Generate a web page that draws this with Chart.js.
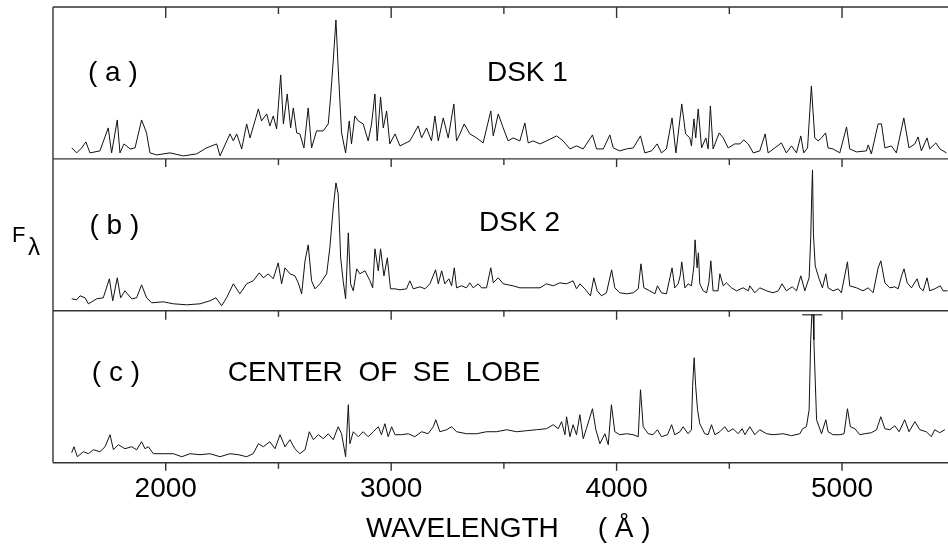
<!DOCTYPE html>
<html lang="en">
<head>
<meta charset="UTF-8">
<title>Spectra</title>
<script src="https://cdn.jsdelivr.net/npm/chart.js@4"></script>
<style>
  html, body { margin: 0; padding: 0; background: #fff; }
  #wrap { width: 948px; height: 545px; }
</style>
</head>
<body>
<div id="wrap"><canvas id="chart" width="948" height="545"></canvas></div>
<script>
// Wavelength (Å) and flux (arbitrary units)
const waveA = [1583,1605,1627,1646,1664,1708,1745,1760,1785,1797,1815,1842,1864,1893,1915,1930,1960,2019,2078,2137,2181,2226,2241,2285,2300,2315,2337,2359,2374,2411,2425,2448,2462,2477,2492,2510,2522,2539,2554,2566,2581,2595,2613,2632,2647,2669,
  2699,2721,2731,2743,2755,2765,2780,2798,2814,2824,2839,2854,2876,2898,2913,2928,2938,2953,2965,2980,2994,3017,3039,3083,3120,3135,3157,3179,3194,3209,3231,3253,3278,3290,3305,3324,3349,3379,3408,3442,3453,3475,3497,3519,3541,3571,3593,3608,3630,3660,3689,3734,3763,3793,3822,3852,3893,3911,3941,3970,3985,4014,
  4044,4074,4106,4125,4155,4180,4199,4221,4246,4263,4289,4306,4325,4332,4343,4351,4362,4377,4396,4406,4416,4428,4455,4473,4495,4524,4547,4564,4584,4606,4635,4659,4672,4702,4731,4753,4776,4798,4817,4830,4847,4864,4879,4894,4909,4927,4938,4960,4990,5020,5034,5064,5108,5116,5130,5160,5175,5190,5219,5241,5274,5297,5323,5337,5352,5377,5389,5416,5434,5463];
const fluxA = [11,6,11,17,6,8,31,6,39,6,15,10,11,39,26,6,4,6,3,5,11,15,3,25,18,25,10,35,21,50,38,45,33,43,30,84,35,65,31,51,26,25,11,51,11,28,
  28,35,61,98,139,91,26,6,38,15,43,38,35,18,35,65,18,62,31,48,15,25,13,18,33,21,31,18,43,18,41,21,55,18,25,35,25,21,16,48,23,45,31,18,21,18,36,16,18,15,18,23,18,10,13,10,24,10,10,24,11,8,
  10,11,23,6,8,15,6,10,41,6,55,25,21,13,40,21,50,11,21,10,53,10,26,21,11,15,15,19,15,6,8,25,6,11,16,6,13,6,23,6,11,73,21,18,21,26,11,10,6,32,10,7,8,14,5,35,35,11,13,6,41,11,15,22,8,21,10,16,10,6];

const waveB = [1583,1605,1620,1642,1657,1694,1723,1750,1765,1785,1800,1819,1849,1871,1893,1915,1938,1989,2034,2093,2152,2196,2223,2248,2270,2300,2329,2359,2388,2415,2433,2455,2477,2499,2514,2529,2551,2573,2588,2603,2618,2632,2647,2662,2684,
  2714,2728,2743,2755,2765,2776,2787,2798,2810,2820,2832,2847,2861,2884,2906,2918,2928,2943,2953,2968,2983,2997,3017,3039,3068,3083,3098,3128,3150,3172,3197,3209,3224,3238,3256,3268,3280,3290,3312,3334,3349,3364,3386,3401,3423,3442,3453,3475,3497,3541,3571,3615,3660,3689,3719,3748,3778,3807,3822,3837,3859,3884,3899,3914,3933,3955,3978,3992,4014,
  4044,4074,4096,4108,4121,4147,4170,4181,4199,4221,4246,4258,4273,4282,4289,4303,4317,4332,4343,4348,4357,4363,4369,4384,4399,4409,4418,4428,4450,4458,4473,4487,4510,4532,4561,4584,4591,4613,4635,4665,4694,4717,4734,4753,4779,4798,4817,4835,4854,4861,4866,4869,4873,4881,4898,4913,4928,4938,4960,4983,4997,5024,5034,5064,5093,5116,5138,5160,5172,5190,5212,5234,5249,5264,5275,5289,5308,5333,5345,5360,5377,5389,5411,5436,5448,5468];
const fluxB = [12,11,15,13,7,12,13,32,10,33,13,20,12,13,26,13,8,9,7,6,7,10,13,5,13,27,17,27,30,38,33,37,32,48,27,43,37,35,28,17,50,66,30,22,27,
  37,63,103,128,117,53,30,12,78,27,20,42,37,40,30,23,62,40,62,35,53,22,22,21,22,30,22,24,22,27,41,27,40,27,32,25,43,23,25,23,28,23,27,23,23,43,28,33,27,25,23,23,23,27,25,28,27,30,22,27,22,15,33,20,15,18,41,23,18,
  17,18,22,47,23,20,17,25,18,17,43,23,27,35,49,23,27,25,45,71,43,58,27,20,18,28,50,20,20,37,25,28,23,20,23,20,25,18,23,20,18,20,27,20,24,20,35,20,33,73,120,141,77,45,32,23,37,23,20,22,18,49,25,23,20,23,18,43,50,28,23,24,22,35,42,28,23,32,23,20,33,20,22,25,20,20];

const waveC = [1583,1593,1608,1635,1657,1679,1708,1731,1753,1768,1790,1819,1849,1871,1893,1908,1923,1945,1989,2034,2071,2108,2152,2196,2241,2285,2322,2359,2388,2411,2433,2462,2485,2507,2529,2551,2573,2595,2618,2637,2655,2677,
  2699,2721,2743,2765,2780,2798,2810,2817,2832,2854,2876,2898,2921,2943,2957,2972,2987,3002,3017,3046,3076,3105,3135,3164,3187,3198,3216,3246,3268,3290,3334,3379,3423,3467,3512,3556,3600,3645,3689,3719,3741,3756,3771,3778,3793,3807,3822,3837,3852,3866,3893,3908,3926,3948,3963,3977,3992,4014,
  4044,4074,4096,4106,4118,4140,4162,4181,4199,4226,4244,4258,4281,4295,4317,4332,4337,4344,4351,4359,4369,4391,4406,4421,4436,4458,4480,4495,4517,4539,4557,4569,4591,4613,4635,4665,4694,4739,4776,4813,4825,4842,4854,4861,4866,4872,4875,4887,4909,4928,4938,4960,4990,5009,5024,5037,5057,5079,5101,5130,5153,5172,5190,5212,5234,5253,5278,5297,5323,5345,5374,5396,5411,5433,5456];
const fluxC = [10,16,6,11,9,13,11,16,28,13,18,14,16,13,21,14,16,9,9,9,6,9,8,9,6,9,8,6,9,19,16,21,14,28,16,23,14,9,13,31,23,28,
  24,29,23,36,29,6,58,19,31,26,31,26,31,36,28,39,26,36,28,28,29,26,31,29,36,43,31,33,36,31,29,29,31,31,33,31,32,33,34,38,34,41,28,46,26,38,28,48,24,34,54,33,19,29,18,58,31,28,
  29,28,26,73,36,29,28,33,26,28,38,28,31,36,29,33,76,105,76,53,39,29,28,38,28,31,36,31,34,29,34,28,36,28,33,29,28,29,27,29,34,36,53,123,148,148,123,43,29,43,31,28,28,29,54,36,34,28,29,30,33,46,34,33,37,31,43,31,41,33,31,26,33,30,33];

// clipped H-beta peak in panel (c): horizontal cap
const capWave = [4823, 4912];
const capFlux = [148, 148];

// axis ticks (Å)
const majorTicks = [2000, 3000, 4000, 5000];
const minorTicks = [2500, 3500, 4500];

const FONT = "'Liberation Sans', Arial, sans-serif";
const pts = (w, f) => w.map((v, i) => ({ x: v, y: f[i] }));

const line = (data, axis) => ({
  data: pts(...data), yAxisID: axis,
  borderColor: '#111', borderWidth: 1, pointRadius: 0, tension: 0
});

const panelAxis = {
  stack: 'panels', stackWeight: 1, min: 0, max: 152,
  ticks: { display: false }, grid: { display: false, drawTicks: false },
  border: { display: false }
};

// frame, ticks and annotations
const framePlugin = {
  id: 'frame',
  afterDatasetsDraw(chart) {
    const { ctx, chartArea: ca, scales } = chart;
    const x = scales.x;
    ctx.save();
    ctx.strokeStyle = '#333';
    ctx.lineWidth = 1.4;
    ctx.beginPath();
    ctx.moveTo(ca.left, ca.top);
    ctx.lineTo(ca.left, ca.bottom);
    const panels = [['yA', 11, 7], ['yB', 8, 6], ['yC', 9, 6]];
    for (const [id, maj, min] of panels) {
      const top = scales[id].top;
      ctx.moveTo(ca.left, top); ctx.lineTo(ca.right, top);
      majorTicks.forEach(v => { const p = x.getPixelForValue(v); ctx.moveTo(p, top); ctx.lineTo(p, top + maj); });
      minorTicks.forEach(v => { const p = x.getPixelForValue(v); ctx.moveTo(p, top); ctx.lineTo(p, top + min); });
    }
    ctx.moveTo(ca.left, ca.bottom); ctx.lineTo(ca.right, ca.bottom);
    majorTicks.forEach(v => { const p = x.getPixelForValue(v); ctx.moveTo(p, ca.bottom); ctx.lineTo(p, ca.bottom + 8); });
    minorTicks.forEach(v => { const p = x.getPixelForValue(v); ctx.moveTo(p, ca.bottom); ctx.lineTo(p, ca.bottom + 6); });
    ctx.stroke();

    ctx.fillStyle = '#000';
    ctx.textBaseline = 'middle';
    ctx.textAlign = 'left';
    ctx.font = `28px ${FONT}`;
    const notes = [
      ['( a )', 1655, 'yA', 86], ['DSK 1', 3425, 'yA', 86],
      ['( b )', 1662, 'yB', 85], ['DSK 2', 3390, 'yB', 88],
      ['( c )', 1672, 'yC', 89], ['CENTER  OF  SE  LOBE', 2275, 'yC', 89]
    ];
    notes.forEach(([t, w, id, f]) => ctx.fillText(t, x.getPixelForValue(w), scales[id].getPixelForValue(f)));

    // y label F_lambda
    const mid = (ca.top + ca.bottom) / 2;
    ctx.textBaseline = 'alphabetic';
    ctx.font = `22px ${FONT}`;
    ctx.fillText('F', ca.left - 41, mid + 7);
    ctx.font = `24px ${FONT}`;
    ctx.fillText('λ', ca.left - 25, mid + 20);
    ctx.restore();
  }
};

new Chart(document.getElementById('chart'), {
  type: 'line',
  data: {
    datasets: [
      line([waveC, fluxC], 'yC'),
      line([waveB, fluxB], 'yB'),
      line([waveA, fluxA], 'yA'),
      { data: pts(capWave, capFlux), yAxisID: 'yC', borderColor: '#555', borderWidth: 1.5, pointRadius: 0 }
    ]
  },
  options: {
    responsive: false,
    animation: false,
    events: [],
    layout: { padding: { left: 53, top: 7, right: 0, bottom: 0 } },
    plugins: { legend: { display: false }, tooltip: { enabled: false } },
    scales: {
      x: {
        type: 'linear', min: 1500, max: 5470,
        afterBuildTicks: s => { s.ticks = majorTicks.map(v => ({ value: v })); },
        grid: { display: false, drawTicks: false },
        border: { display: false },
        ticks: {
          color: '#000', font: { family: FONT, size: 28, lineHeight: 0.8 }, padding: 15.1,
          maxRotation: 0, autoSkip: false, callback: v => String(v)
        },
        title: {
          display: true, text: '  WAVELENGTH     ( Å )', color: '#000',
          font: { family: FONT, size: 28, lineHeight: 0.5 }, padding: { top: 6.7, bottom: 9 }
        }
      },
      yC: { ...panelAxis },
      yB: { ...panelAxis },
      yA: { ...panelAxis }
    }
  },
  plugins: [framePlugin]
});
</script>
</body>
</html>
